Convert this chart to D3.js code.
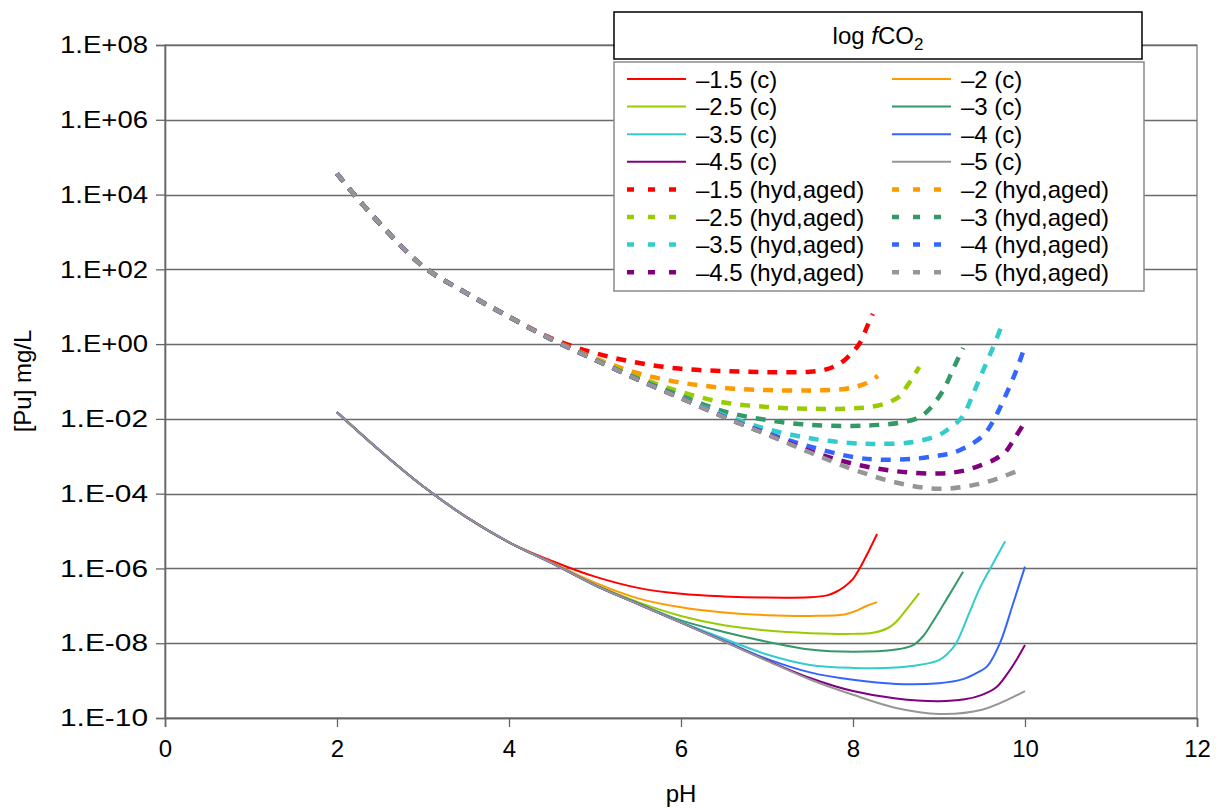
<!DOCTYPE html>
<html>
<head>
<meta charset="utf-8">
<script src="https://cdn.jsdelivr.net/npm/d3@7"></script>
<style>
  html, body { margin: 0; padding: 0; background: #fff; }
  svg { display: block; font-family: "Liberation Sans", Arial, sans-serif; }
</style>
</head>
<body>
<svg id="chart" width="1225" height="808"></svg>
<script>
// ---------- DATA (pH, log10 [Pu] mg/L) ----------
const xTicks = [0, 2, 4, 6, 8, 10, 12];
const yTickExps = [8, 6, 4, 2, 0, -2, -4, -6, -8, -10];
const seriesLabels = ["\u20131.5", "\u20132", "\u20132.5", "\u20133", "\u20133.5", "\u20134", "\u20134.5", "\u20135"];
const seriesColors = ["#FF0000", "#FF9900", "#99CC00", "#339966", "#33CCCC", "#3366FF", "#800080", "#969696"];

// crystalline (c) – solid lines
const c15 = [[2.0,-1.82],[2.5,-2.85],[3.0,-3.8],[3.5,-4.62],[4.0,-5.3],[4.5,-5.8],[5.0,-6.22],[5.5,-6.52],[6.0,-6.68],[6.5,-6.75],[7.0,-6.78],[7.5,-6.77],[7.7,-6.72],[7.8,-6.63],[7.9,-6.49],[8.0,-6.28],[8.08,-5.99],[8.18,-5.55],[8.28,-5.08]];
const c20 = [[2.0,-1.82],[2.5,-2.85],[3.0,-3.8],[3.5,-4.62],[4.0,-5.3],[4.5,-5.84],[5.0,-6.38],[5.5,-6.8],[6.0,-7.04],[6.5,-7.18],[7.0,-7.25],[7.5,-7.27],[7.9,-7.23],[8.05,-7.12],[8.15,-7.01],[8.28,-6.9]];
const c25 = [[2.0,-1.82],[2.5,-2.85],[3.0,-3.8],[3.5,-4.62],[4.0,-5.3],[4.5,-5.86],[5.0,-6.43],[5.5,-6.9],[6.0,-7.27],[6.5,-7.52],[7.0,-7.66],[7.5,-7.73],[8.0,-7.75],[8.23,-7.72],[8.4,-7.6],[8.5,-7.43],[8.62,-7.1],[8.77,-6.66]];
const c30 = [[2.0,-1.82],[2.5,-2.85],[3.0,-3.8],[3.5,-4.62],[4.0,-5.3],[4.5,-5.86],[5.0,-6.45],[5.5,-6.93],[6.0,-7.39],[6.5,-7.7],[7.0,-7.96],[7.5,-8.17],[8.0,-8.23],[8.5,-8.17],[8.7,-8.05],[8.82,-7.8],[8.93,-7.42],[9.1,-6.78],[9.28,-6.09]];
const c35 = [[2.0,-1.82],[2.5,-2.85],[3.0,-3.8],[3.5,-4.62],[4.0,-5.3],[4.5,-5.86],[5.0,-6.45],[5.5,-6.95],[6.0,-7.43],[6.5,-7.88],[7.0,-8.3],[7.5,-8.58],[8.0,-8.66],[8.5,-8.65],[8.8,-8.57],[9.0,-8.45],[9.1,-8.28],[9.2,-8.0],[9.35,-7.2],[9.48,-6.5],[9.62,-5.9],[9.77,-5.27]];
const c40 = [[2.0,-1.82],[2.5,-2.85],[3.0,-3.8],[3.5,-4.62],[4.0,-5.3],[4.5,-5.86],[5.0,-6.45],[5.5,-6.95],[6.0,-7.45],[6.5,-7.93],[7.0,-8.42],[7.5,-8.78],[8.0,-8.98],[8.5,-9.09],[9.0,-9.07],[9.28,-8.96],[9.45,-8.78],[9.56,-8.62],[9.71,-7.99],[9.86,-6.95],[10.0,-5.95]];
const c45 = [[2.0,-1.82],[2.5,-2.85],[3.0,-3.8],[3.5,-4.62],[4.0,-5.3],[4.5,-5.86],[5.0,-6.45],[5.5,-6.95],[6.0,-7.45],[6.5,-7.95],[7.0,-8.46],[7.5,-8.93],[8.0,-9.28],[8.5,-9.48],[9.0,-9.55],[9.3,-9.5],[9.5,-9.38],[9.67,-9.17],[9.8,-8.8],[9.9,-8.45],[10.0,-8.05]];
const c50 = [[2.0,-1.82],[2.5,-2.85],[3.0,-3.8],[3.5,-4.62],[4.0,-5.3],[4.5,-5.86],[5.0,-6.45],[5.5,-6.95],[6.0,-7.45],[6.5,-7.95],[7.0,-8.47],[7.5,-8.97],[8.0,-9.38],[8.5,-9.73],[9.0,-9.89],[9.5,-9.78],[10.0,-9.28]];

// hydrated, aged – dashed lines
const h15 = [[2.0,4.56],[2.2,4.0],[2.5,3.22],[3.0,2.08],[3.5,1.37],[4.0,0.73],[4.5,0.15],[5.0,-0.24],[5.5,-0.5],[6.0,-0.66],[6.5,-0.72],[7.0,-0.75],[7.5,-0.74],[7.7,-0.67],[7.8,-0.58],[7.9,-0.43],[8.0,-0.2],[8.08,0.03],[8.17,0.5],[8.23,0.81]];
const h20 = [[2.0,4.56],[2.2,4.0],[2.5,3.22],[3.0,2.08],[3.5,1.37],[4.0,0.73],[4.5,0.13],[5.0,-0.38],[5.5,-0.78],[6.0,-1.03],[6.5,-1.17],[7.0,-1.23],[7.5,-1.24],[7.9,-1.2],[8.05,-1.13],[8.16,-1.04],[8.29,-0.85]];
const h25 = [[2.0,4.56],[2.2,4.0],[2.5,3.22],[3.0,2.08],[3.5,1.37],[4.0,0.73],[4.5,0.12],[5.0,-0.4],[5.5,-0.88],[6.0,-1.28],[6.5,-1.56],[7.0,-1.68],[7.5,-1.73],[8.0,-1.72],[8.2,-1.68],[8.4,-1.57],[8.55,-1.38],[8.62,-1.15],[8.7,-0.88],[8.77,-0.61]];
const h30 = [[2.0,4.56],[2.2,4.0],[2.5,3.22],[3.0,2.08],[3.5,1.37],[4.0,0.73],[4.5,0.12],[5.0,-0.42],[5.5,-0.93],[6.0,-1.38],[6.5,-1.8],[7.0,-2.03],[7.5,-2.16],[8.0,-2.19],[8.3,-2.16],[8.55,-2.1],[8.78,-1.95],[8.9,-1.71],[9.05,-1.23],[9.16,-0.69],[9.28,-0.1]];
const h35 = [[2.0,4.56],[2.2,4.0],[2.5,3.22],[3.0,2.08],[3.5,1.37],[4.0,0.73],[4.5,0.12],[5.0,-0.42],[5.5,-0.95],[6.0,-1.43],[6.5,-1.9],[7.0,-2.27],[7.5,-2.52],[8.0,-2.65],[8.3,-2.67],[8.7,-2.62],[9.0,-2.43],[9.12,-2.25],[9.27,-1.95],[9.4,-1.31],[9.51,-0.72],[9.63,-0.08],[9.74,0.56]];
const h40 = [[2.0,4.56],[2.2,4.0],[2.5,3.22],[3.0,2.08],[3.5,1.37],[4.0,0.73],[4.5,0.12],[5.0,-0.42],[5.5,-0.95],[6.0,-1.44],[6.5,-1.94],[7.0,-2.38],[7.5,-2.74],[8.0,-3.02],[8.3,-3.09],[8.7,-3.07],[9.0,-2.98],[9.16,-2.91],[9.36,-2.7],[9.52,-2.43],[9.62,-2.1],[9.75,-1.5],[9.9,-0.7],[10.0,-0.05]];
const h45 = [[2.0,4.56],[2.2,4.0],[2.5,3.22],[3.0,2.08],[3.5,1.37],[4.0,0.73],[4.5,0.12],[5.0,-0.42],[5.5,-0.95],[6.0,-1.45],[6.5,-1.95],[7.0,-2.41],[7.5,-2.86],[8.0,-3.2],[8.5,-3.4],[9.0,-3.46],[9.28,-3.39],[9.5,-3.23],[9.65,-3.08],[9.77,-2.89],[9.87,-2.55],[9.97,-2.19]];
const h50 = [[2.0,4.56],[2.2,4.0],[2.5,3.22],[3.0,2.08],[3.5,1.37],[4.0,0.73],[4.5,0.12],[5.0,-0.42],[5.5,-0.95],[6.0,-1.45],[6.5,-1.95],[7.0,-2.42],[7.5,-2.9],[8.0,-3.35],[8.5,-3.7],[9.0,-3.87],[9.5,-3.72],[9.94,-3.37]];

const solidSeries = [c15, c20, c25, c30, c35, c40, c45, c50];
const dashedSeries = [h15, h20, h25, h30, h35, h40, h45, h50];

// ---------- LAYOUT ----------
const svg = d3.select("#chart");
const plot = { left: 165, right: 1197, top: 45, bottom: 718 };
const FONT = 24;

const x = d3.scaleLinear().domain([0, 12]).range([plot.left, plot.right]);
const y = d3.scaleLog().domain([1e-10, 1e8]).range([plot.bottom, plot.top]);

const fmtY = v => {
  const e = Math.round(Math.log10(v));
  return "1.E" + (e >= 0 ? "+" : "-") + String(Math.abs(e)).padStart(2, "0");
};

// plot area border
svg.append("rect")
  .attr("x", plot.left).attr("y", plot.top)
  .attr("width", plot.right - plot.left).attr("height", plot.bottom - plot.top)
  .attr("fill", "#fff").attr("stroke", "#808080").attr("stroke-width", 1.3);

// horizontal gridlines
svg.append("g").selectAll("line").data(yTickExps).join("line")
  .attr("x1", plot.left).attr("x2", plot.right)
  .attr("y1", d => Math.round(y(Math.pow(10, d))) + 0.5)
  .attr("y2", d => Math.round(y(Math.pow(10, d))) + 0.5)
  .attr("stroke", "#6a6a6a").attr("stroke-width", 1.3);

// Y axis
const yAxis = d3.axisLeft(y)
  .tickValues(yTickExps.map(e => Math.pow(10, e)))
  .tickFormat(fmtY).tickSize(9).tickPadding(8);
const gy = svg.append("g").attr("transform", `translate(${plot.left},0)`).call(yAxis);
gy.select(".domain").attr("stroke", "#666").attr("stroke-width", 1.6);
gy.selectAll(".tick line").attr("stroke", "#666").attr("stroke-width", 1.3);
gy.selectAll(".tick text")
  .attr("font-size", FONT).attr("fill", "#000")
  .attr("font-family", "'Liberation Sans', Arial, sans-serif")
  .attr("textLength", 88).attr("lengthAdjust", "spacingAndGlyphs");

// X axis
const xAxis = d3.axisBottom(x).tickValues(xTicks).tickFormat(d3.format("d")).tickSize(9).tickPadding(13);
const gx = svg.append("g").attr("transform", `translate(0,${plot.bottom})`).call(xAxis);
gx.select(".domain").attr("stroke", "#666").attr("stroke-width", 1.6);
gx.selectAll(".tick line").attr("stroke", "#666").attr("stroke-width", 1.3);
gx.selectAll(".tick text")
  .attr("font-size", FONT).attr("fill", "#000")
  .attr("font-family", "'Liberation Sans', Arial, sans-serif");

// axis titles
svg.append("text").attr("x", 681).attr("y", 802).attr("text-anchor", "middle")
  .attr("font-size", FONT).text("pH");
svg.append("text").attr("transform", "translate(31,381) rotate(-90)")
  .attr("text-anchor", "middle").attr("font-size", FONT).text("[Pu] mg/L");

// lines
const line = d3.line()
  .x(d => x(d[0]))
  .y(d => y(Math.pow(10, d[1])))
  .curve(d3.curveCatmullRom.alpha(0.5));

const gLines = svg.append("g");
solidSeries.forEach((s, i) => {
  gLines.append("path").datum(s).attr("d", line)
    .attr("fill", "none").attr("stroke", seriesColors[i]).attr("stroke-width", 2);
});
dashedSeries.forEach((s, i) => {
  gLines.append("path").datum(s).attr("d", line)
    .attr("fill", "none").attr("stroke", seriesColors[i]).attr("stroke-width", 4.5)
    .attr("stroke-dasharray", "10,9");
});

// legend title box
const lt = { x: 614, y: 12, w: 528, h: 47 };
svg.append("rect").attr("x", lt.x).attr("y", lt.y).attr("width", lt.w).attr("height", lt.h)
  .attr("fill", "#fff").attr("stroke", "#000").attr("stroke-width", 1.5);
const title = svg.append("text").attr("x", lt.x + lt.w / 2).attr("y", 44)
  .attr("text-anchor", "middle").attr("font-size", FONT);
title.append("tspan").text("log ");
title.append("tspan").attr("font-style", "italic").text("f");
title.append("tspan").text("CO");
title.append("tspan").attr("font-size", 17).attr("dy", 6).text("2");

// legend box
const lg = { x: 614, y: 62, w: 530, h: 229 };
svg.append("rect").attr("x", lg.x).attr("y", lg.y).attr("width", lg.w).attr("height", lg.h)
  .attr("fill", "#fff").attr("stroke", "#8a8a8a").attr("stroke-width", 1.5);

const legendItems = [];
seriesLabels.forEach((lab, i) => legendItems.push({ label: lab + " (c)", color: seriesColors[i], dashed: false }));
seriesLabels.forEach((lab, i) => legendItems.push({ label: lab + " (hyd,aged)", color: seriesColors[i], dashed: true }));

const colX = [627, 892];
const rowY0 = 79, rowStep = 27.6;
const li = svg.append("g").selectAll("g").data(legendItems).join("g")
  .attr("transform", (d, i) => `translate(${colX[i % 2]},${rowY0 + Math.floor(i / 2) * rowStep})`);
li.append("line").attr("x1", 0).attr("x2", 59).attr("y1", 0).attr("y2", 0)
  .attr("stroke", d => d.color)
  .attr("stroke-width", d => d.dashed ? 4.5 : 2)
  .attr("stroke-dasharray", d => d.dashed ? "7,14" : null);
li.append("text").attr("x", 69).attr("y", 0).attr("dy", "0.36em")
  .attr("font-size", FONT).attr("fill", "#000").text(d => d.label);
</script>
</body>
</html>
